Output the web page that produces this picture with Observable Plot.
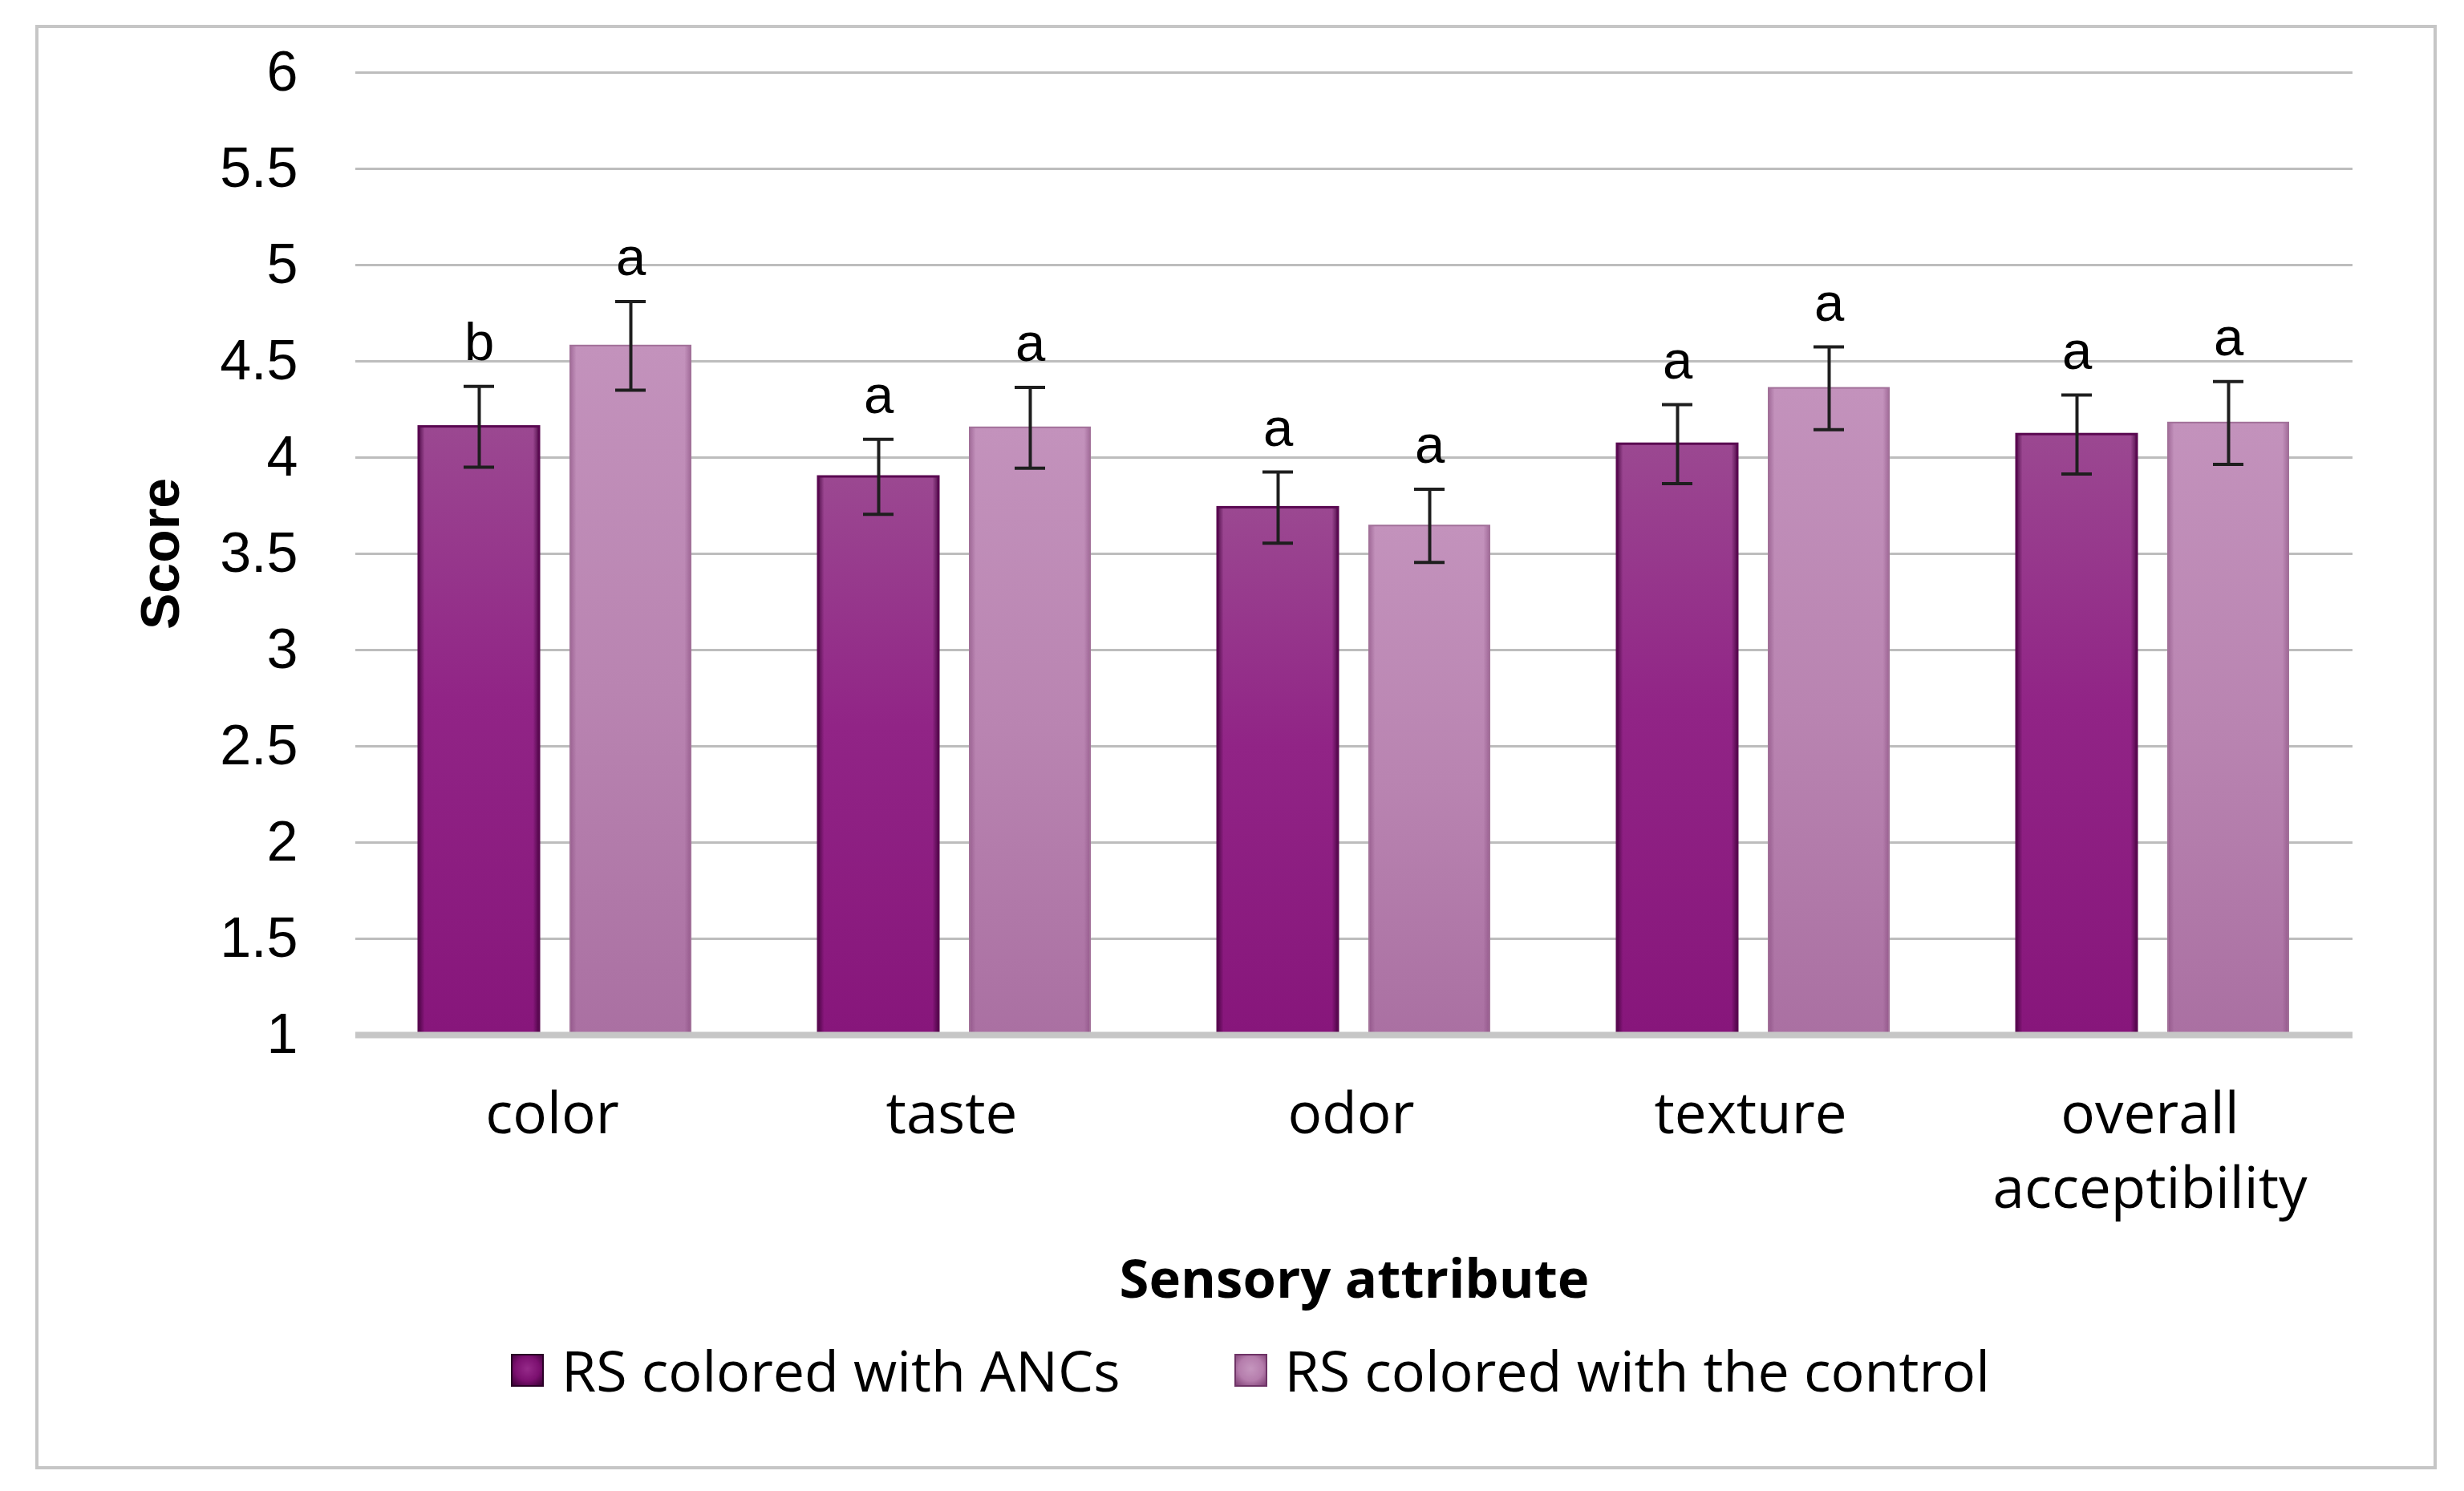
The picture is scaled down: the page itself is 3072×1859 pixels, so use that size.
<!DOCTYPE html>
<html>
<head>
<meta charset="utf-8">
<script src="https://cdn.jsdelivr.net/npm/d3@7"></script>
<script src="https://cdn.jsdelivr.net/npm/@observablehq/plot@0.6"></script>
<style>
  html, body { margin: 0; padding: 0; background: #fff; }
  #page { position: relative; width: 3072px; height: 1859px; overflow: hidden; }
  #frame { position: absolute; left: 44px; top: 31px; width: 2994px; height: 1801px; box-sizing: border-box; border: 4px solid #c6c6c6; }
  #chart { position: absolute; left: 0; top: 0; }
  #chart svg { color: #000; }
  g[aria-label="bars-fill"] { filter: drop-shadow(0 0 10px rgba(0,0,0,0.36)); }
  #legend { position: absolute; left: 637px; top: 1660px; display: flex; align-items: center;
            font-family: "Open Sans", "Noto Sans", sans-serif; font-size: 70px; color: #000; white-space: nowrap; }
  .item { display: flex; align-items: center; margin-right: 142px; }
  .sw { width: 41px; height: 41px; margin-right: 22px; box-sizing: border-box; }
</style>
</head>
<body>
<div id="page">
  <div id="frame"></div>
  <div id="chart"></div>
  <div id="legend"></div>
</div>
<script>
// ---- data ----
const categories = ["color", "taste", "odor", "texture", "overall acceptibility"];
const categoryLabels = ["color", "taste", "odor", "texture", "overall\nacceptibility"];
const series = ["RS colored with ANCs", "RS colored with the control"];
const ancMean = [4.16, 3.90, 3.74, 4.07, 4.12];
const ancErr = [0.21, 0.195, 0.185, 0.205, 0.205];
const ancLetters = ["b", "a", "a", "a", "a"];
const controlMean = [4.58, 4.155, 3.645, 4.36, 4.18];
const controlErr = [0.23, 0.21, 0.19, 0.215, 0.215];
const controlLetters = ["a", "a", "a", "a", "a"];
const yTicks = [1, 1.5, 2, 2.5, 3, 3.5, 4, 4.5, 5, 5.5, 6];

const rows = [];
categories.forEach((c, i) => {
  rows.push({category: c, series: series[0], value: ancMean[i], err: ancErr[i], letter: ancLetters[i]});
  rows.push({category: c, series: series[1], value: controlMean[i], err: controlErr[i], letter: controlLetters[i]});
});

const svgNS = "http://www.w3.org/2000/svg";
function defsMark() {
  const defs = document.createElementNS(svgNS, "defs");
  defs.innerHTML = `
    <linearGradient id="gA" x1="0" y1="0" x2="0" y2="1">
      <stop offset="0" stop-color="#9b4891"/>
      <stop offset="0.45" stop-color="#912486"/>
      <stop offset="1" stop-color="#87167b"/>
    </linearGradient>
    <linearGradient id="gB" x1="0" y1="0" x2="0" y2="1">
      <stop offset="0" stop-color="#c392bc"/>
      <stop offset="0.5" stop-color="#b984b1"/>
      <stop offset="1" stop-color="#aa70a2"/>
    </linearGradient>
    <linearGradient id="eA" x1="0" y1="0" x2="1" y2="0">
      <stop offset="0" stop-color="#3e0038" stop-opacity="0.75"/>
      <stop offset="0.05" stop-color="#3e0038" stop-opacity="0"/>
      <stop offset="0.95" stop-color="#3e0038" stop-opacity="0"/>
      <stop offset="1" stop-color="#3e0038" stop-opacity="0.75"/>
    </linearGradient>
    <linearGradient id="eB" x1="0" y1="0" x2="1" y2="0">
      <stop offset="0" stop-color="#7a3d70" stop-opacity="0.45"/>
      <stop offset="0.05" stop-color="#7a3d70" stop-opacity="0"/>
      <stop offset="0.95" stop-color="#7a3d70" stop-opacity="0"/>
      <stop offset="1" stop-color="#7a3d70" stop-opacity="0.45"/>
    </linearGradient>`;
  return defs;
}

const chart = Plot.plot({
  width: 3072,
  height: 1660,
  marginLeft: 441,
  marginRight: 137,
  marginTop: 90,
  marginBottom: 370,
  style: {background: "transparent", color: "#000"},
  fx: {domain: categories, padding: 0},
  x: {domain: series, paddingInner: 0.205, paddingOuter: 0.4155, axis: null},
  y: {domain: [1, 6]},
  color: {domain: series, range: ["url(#gA)", "url(#gB)"]},
  marks: [
    defsMark,
    Plot.ruleY(yTicks.slice(1), {stroke: "#bdbdbd", strokeWidth: 3}),
    Plot.barY(rows, {fx: "category", x: "series", y1: 1, y2: "value", fill: "series", ariaLabel: "bars-fill"}),
    Plot.barY(rows, {fx: "category", x: "series", y1: 1, y2: "value",
      fill: d => d.series === series[0] ? "url(#eA)" : "url(#eB)",
      stroke: d => d.series === series[0] ? "#5a0851" : "#a27199",
      strokeWidth: d => d.series === series[0] ? 3 : 2,
      ariaLabel: "bars-edge"}),
    Plot.ruleY([1], {stroke: "#c6c6c6", strokeWidth: 8}),
    Plot.ruleX(rows, {fx: "category", x: "series", y1: d => d.value - d.err, y2: d => d.value + d.err, stroke: "#1e1e1e", strokeWidth: 4}),
    Plot.tickY(rows, {fx: "category", x: "series", y: d => d.value + d.err, stroke: "#1e1e1e", strokeWidth: 4, inset: 56}),
    Plot.tickY(rows, {fx: "category", x: "series", y: d => d.value - d.err, stroke: "#1e1e1e", strokeWidth: 4, inset: 56}),
    Plot.text(rows, {fx: "category", x: "series", y: d => d.value + d.err, text: "letter", dy: -33, lineAnchor: "bottom",
      fontSize: 67, fontFamily: "Liberation Sans, Arial, sans-serif", fill: "#000"}),
    Plot.axisY(yTicks, {tickSize: 0, tickPadding: 72, fontSize: 70, fontFamily: "Liberation Sans, Arial, sans-serif",
      tickFormat: d => String(d), label: null}),
    Plot.axisY([], {label: "Score", labelArrow: "none", labelAnchor: "center", labelOffset: 269, fontSize: 68, fontWeight: "bold",
      fontFamily: "Liberation Sans, Arial, sans-serif"}),
    Plot.axisFx({anchor: "bottom", tickSize: 0, tickPadding: 56, fontSize: 71, lineHeight: 1.31, dx: -4,
      fontFamily: "Open Sans, Noto Sans, sans-serif", tickFormat: d => categoryLabels[categories.indexOf(d)], label: null}),
    Plot.axisFx([], {anchor: "bottom", label: "Sensory attribute", labelArrow: "none", labelAnchor: "center", labelOffset: 327,
      fontSize: 67, fontWeight: "bold", fontFamily: "Open Sans, Noto Sans, sans-serif"})
  ]
});
document.getElementById("chart").appendChild(chart);

// legend
const swatchStyles = [
  "background: radial-gradient(circle at 50% 45%, #952a89 0%, #7c1070 55%, #3a0034 100%); border: 2px solid #2a0026;",
  "background: radial-gradient(circle at 50% 45%, #c596be 0%, #b57dac 55%, #7e3f74 100%); border: 2px solid #6e3366;"
];
const legend = document.getElementById("legend");
series.forEach((s, i) => {
  const item = document.createElement("div");
  item.className = "item";
  const sw = document.createElement("div");
  sw.className = "sw";
  sw.style.cssText = swatchStyles[i];
  const label = document.createElement("span");
  label.textContent = s;
  item.appendChild(sw);
  item.appendChild(label);
  legend.appendChild(item);
});
</script>
</body>
</html>
